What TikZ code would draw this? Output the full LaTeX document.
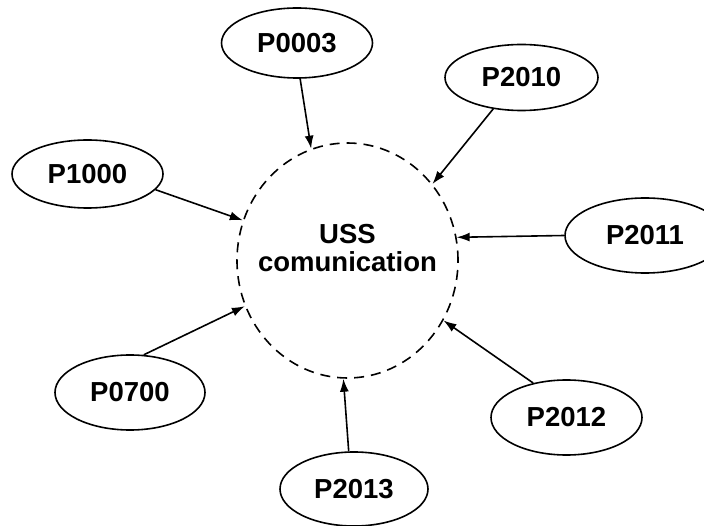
\documentclass[tikz,border=0pt]{standalone}
\usepackage{fontspec}
\setmainfont{Liberation Sans}
\usetikzlibrary{shapes.geometric,arrows.meta}

\tikzset{
    param/.style={ellipse, draw, line width=1.6pt, minimum width=151pt, minimum height=72pt, inner sep=0pt,
        font=\fontsize{27.5}{29}\selectfont\bfseries},
    link/.style={line width=1.6pt, -{Latex[length=13pt,width=9pt]}}
}

\begin{document}
\begin{tikzpicture}[x=1pt, y=-1pt]
    \useasboundingbox (0,0) rectangle (704,526);
    % Centre: the communication block, dashed
    \node[ellipse, draw, dashed, dash pattern=on 10pt off 7pt, line width=1.6pt,
        minimum width=221pt, minimum height=235pt, inner sep=0pt] (uss) at (347.5,260.5) {};
    \node[align=center, font=\fontsize{27.5}{28}\selectfont\bfseries] (usstext) at (347.5,248) {USS\\comunication};

    % Parameters round it
    \node[param, minimum height=70pt] (p0003) at (297,43) {P0003};
    \node[param, minimum width=153pt, minimum height=66pt] (p2010) at (521.5,77.5) {P2010};
    \node[param, minimum height=68pt] (p1000) at (87.5,174) {P1000};
    \node[param, minimum width=160pt, minimum height=75pt] (p2011) at (645,235.5) {P2011};
    \node[param, minimum width=150pt, minimum height=75pt] (p0700) at (130,392.5) {P0700};
    \node[param, minimum height=75pt] (p2012) at (566.5,417.5) {P2012};
    \node[param, minimum width=148pt, minimum height=74pt] (p2013) at (354,489) {P2013};

    % Arrows into the centre
    \draw[link] (p0003.275) -- (uss.108);
    \draw[link] (p2010.228) -- (uss.42.6);
    \draw[link] (p1000.347) -- (uss.159.5);
    \draw[link] (p2011.west) -- (uss.12);
    \draw[link] (p0700.70) -- (uss.204.5);
    \draw[link] (p2012.134) -- (uss.328.6);
    \draw[link] (p2013.98) -- (uss.268.8);
\end{tikzpicture}
\end{document}
